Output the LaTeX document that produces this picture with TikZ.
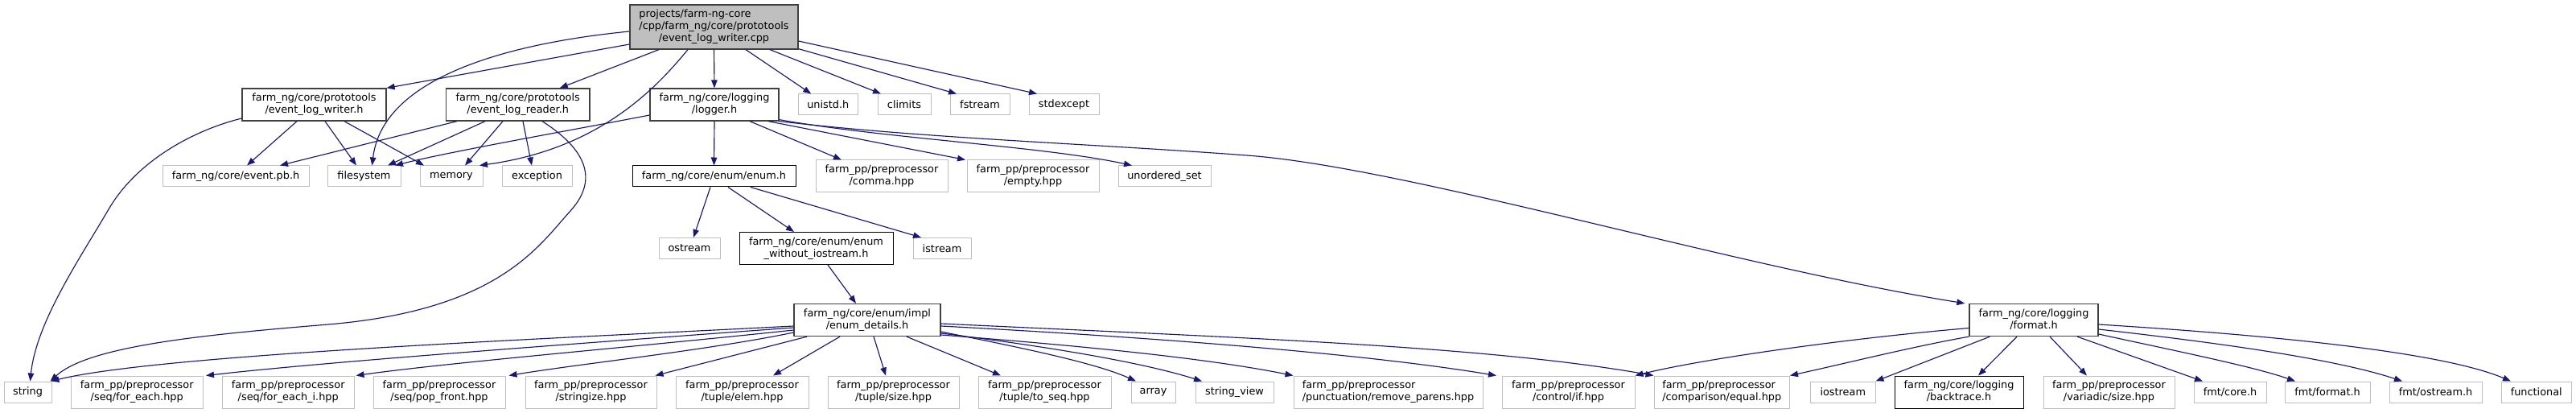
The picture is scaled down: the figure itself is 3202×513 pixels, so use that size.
\documentclass[tikz,border=0pt]{standalone}
\usepackage{fontspec}
\setmainfont{DejaVu Sans}
\usetikzlibrary{arrows.meta,calc}
\definecolor{edgec}{HTML}{191970}
\definecolor{gborder}{HTML}{BFBFBF}
\definecolor{dborder}{HTML}{404040}
\definecolor{rootfill}{HTML}{BFBFBF}
\newcommand{\twol}[2]{\begin{tabular}{@{}l@{}}#1\\\multicolumn{1}{@{}c@{}}{#2}\end{tabular}}
\tikzset{
  sz/.style 2 args={minimum width=#1pt,minimum height=#2pt},
  base/.style={rectangle,inner sep=0pt,font=\fontsize{12.85}{15}\selectfont,fill=white},
  gbox/.style={base,draw=gborder,line width=1pt},
  dbox/.style={base,draw=dborder,line width=1.3pt},
  bbox/.style={base,draw=black,line width=1pt},
  rbox/.style={base,draw=dborder,fill=rootfill,line width=1.3pt},
  ed/.style={draw=edgec,line width=1.15pt,-{Triangle[length=10pt,width=7.5pt]}}
}
\begin{document}
\begin{tikzpicture}[x=1pt,y=-1pt]
\useasboundingbox (0,0) rectangle (3202,513);
\fill[white] (0,0) rectangle (3202,513);
% nodes
\node[rbox,sz={209}{55}] (root) at (887.5,33.5) {\begin{tabular}{@{}l@{}}projects/farm-ng-core\\/cpp/farm\_ng/core/prototools\\\multicolumn{1}{@{}c@{}}{/event\_log\_writer.cpp}\end{tabular}};
\node[dbox,sz={179}{40}] (ewriter) at (390.5,130) {\twol{farm\_ng/core/prototools}{/event\_log\_writer.h}};
\node[dbox,sz={178.5}{40}] (ereader) at (643.75,130) {\twol{farm\_ng/core/prototools}{/event\_log\_reader.h}};
\node[dbox,sz={160}{40}] (logger) at (888,130) {\twol{farm\_ng/core/logging}{/logger.h}};
\node[gbox,sz={74.5}{26}] (unistd) at (1029.25,130) {unistd.h};
\node[gbox,sz={66}{26}] (climits) at (1124,130) {climits};
\node[gbox,sz={74}{26}] (fstream) at (1218,130) {fstream};
\node[gbox,sz={87}{26}] (stdexcept) at (1322.5,130) {stdexcept};
\node[gbox,sz={182}{26}] (eventpb) at (293,219) {farm\_ng/core/event.pb.h};
\node[gbox,sz={91}{26}] (filesystem) at (452.5,219) {filesystem};
\node[gbox,sz={78}{26}] (memory) at (561,219) {memory};
\node[gbox,sz={87}{26}] (exception) at (667.5,219) {exception};
\node[bbox,sz={203}{26}] (enumh) at (887.5,219) {farm\_ng/core/enum/enum.h};
\node[gbox,sz={164}{40}] (comma) at (1096,219) {\twol{farm\_pp/preprocessor}{/comma.hpp}};
\node[gbox,sz={164}{40}] (empty) at (1284,219) {\twol{farm\_pp/preprocessor}{/empty.hpp}};
\node[gbox,sz={115}{26}] (unordered) at (1447.5,219) {unordered\_set};
\node[gbox,sz={76}{26}] (ostream) at (857,308.5) {ostream};
\node[bbox,sz={191}{40}] (enumwo) at (1014.5,308.5) {\twol{farm\_ng/core/enum/enum}{\_without\_iostream.h}};
\node[gbox,sz={72}{26}] (istream) at (1171,308.5) {istream};
\node[dbox,sz={182}{40}] (details) at (1078,397.5) {\twol{farm\_ng/core/enum/impl}{/enum\_details.h}};
\node[dbox,sz={160}{40}] (format) at (2528,397.5) {\twol{farm\_ng/core/logging}{/format.h}};
% bottom row
\node[gbox,sz={59}{26}] (string) at (34.5,487) {string};
\node[gbox,sz={164.5}{40}] (foreach) at (170.25,487) {\twol{farm\_pp/preprocessor}{/seq/for\_each.hpp}};
\node[gbox,sz={163.5}{40}] (foreachi) at (358.25,487) {\twol{farm\_pp/preprocessor}{/seq/for\_each\_i.hpp}};
\node[gbox,sz={164}{40}] (popfront) at (546,487) {\twol{farm\_pp/preprocessor}{/seq/pop\_front.hpp}};
\node[gbox,sz={163}{40}] (stringize) at (734.5,487) {\twol{farm\_pp/preprocessor}{/stringize.hpp}};
\node[gbox,sz={165}{40}] (elem) at (922.5,487) {\twol{farm\_pp/preprocessor}{/tuple/elem.hpp}};
\node[gbox,sz={163}{40}] (tsize) at (1110.5,487) {\twol{farm\_pp/preprocessor}{/tuple/size.hpp}};
\node[gbox,sz={165}{40}] (toseq) at (1298.5,487) {\twol{farm\_pp/preprocessor}{/tuple/to\_seq.hpp}};
\node[gbox,sz={55}{26}] (array) at (1433.5,487) {array};
\node[gbox,sz={97}{26}] (stringview) at (1534.5,487) {string\_view};
\node[gbox,sz={235}{40}] (removeparens) at (1725.5,487) {\twol{farm\_pp/preprocessor}{/punctuation/remove\_parens.hpp}};
\node[gbox,sz={165}{40}] (ifhpp) at (1949.5,487) {\twol{farm\_pp/preprocessor}{/control/if.hpp}};
\node[gbox,sz={168.5}{40}] (equal) at (2140.25,487) {\twol{farm\_pp/preprocessor}{/comparison/equal.hpp}};
\node[gbox,sz={80.5}{26}] (iostream) at (2290.75,487) {iostream};
\node[bbox,sz={160}{40}] (backtrace) at (2435,487) {\twol{farm\_ng/core/logging}{/backtrace.h}};
\node[gbox,sz={163}{40}] (variadic) at (2621.5,487) {\twol{farm\_pp/preprocessor}{/variadic/size.hpp}};
\node[gbox,sz={90}{26}] (fmtcore) at (2772,487) {fmt/core.h};
\node[gbox,sz={106}{26}] (fmtformat) at (2893,487) {fmt/format.h};
\node[gbox,sz={115}{26}] (fmtostream) at (3027.5,487) {fmt/ostream.h};
\node[gbox,sz={86.5}{26}] (functional) at (3152.75,487) {functional};
% edges from root
\draw[ed] ($(root.west)+(0,21.5)$) -- (ewriter.north east);
\draw[ed] ($(root.west)+(0,5.5)$) .. controls (620,55) and (475,100) .. ($(filesystem.north)+(10,0)$);
\draw[ed] ($(root.south)+(-68.5,0)$) -- ($(ereader.north)+(52,0)$);
\draw[ed] ($(root.south)+(-32.5,0)$) .. controls (815,110) and (745,185) .. ($(memory.north)+(35,0)$);
\draw[ed] (root.south) -- (logger.north);
\draw[ed] ($(root.south)+(39.5,0)$) -- ($(unistd.north)+(-21,0)$);
\draw[ed] ($(root.south)+(69.5,0)$) -- ($(climits.north)+(-29,0)$);
\draw[ed] ($(root.south east)+(0,-1)$) -- ($(fstream.north)+(-29,0)$);
\draw[ed] ($(root.east)+(0,17.5)$) -- ($(stdexcept.north)+(-33.5,0)$);
% event_log_writer.h
\draw[ed] ($(ewriter.south)+(-21.5,0)$) -- ($(eventpb.north)+(14,0)$);
\draw[ed] ($(ewriter.south)+(13.5,0)$) -- ($(filesystem.north)+(-9.5,0)$);
\draw[ed] ($(ewriter.south)+(37.5,0)$) -- ($(memory.north)+(-34,0)$);
\draw[ed] ($(ewriter.west)+(0,17)$) .. controls (240,162) and (170,200) .. (135,260) .. controls (100,320) and (45,400) .. ($(string.north)+(3,0)$);
% event_log_reader.h
\draw[ed] ($(ereader.south)+(-75.75,0)$) -- ($(eventpb.north)+(55,0)$);
\draw[ed] ($(ereader.south)+(-40.75,0)$) -- ($(filesystem.north)+(29.5,0)$);
\draw[ed] ($(ereader.south)+(-18.75,0)$) -- ($(memory.north)+(17,0)$);
\draw[ed] ($(ereader.south)+(6.25,0)$) -- ($(exception.north)+(-6.5,0)$);
\draw[ed] ($(ereader.south)+(30.25,0)$) .. controls (720,180) and (749,218) .. (709,262) .. controls (669,306) and (620,385) .. (408,403) .. controls (250,416) and (110,430) .. ($(string.north east)+(-2,0)$);
% logger.h
\draw[ed] ($(logger.west)+(0,13)$) .. controls (720,160) and (560,188) .. ($(filesystem.north)+(38.5,0)$);
\draw[ed] (logger.south) -- (enumh.north);
\draw[ed] ($(logger.south)+(44,0)$) -- ($(comma.north)+(-50,0)$);
\draw[ed] ($(logger.south)+(67,0)$) -- ($(empty.north)+(-84,0)$);
\draw[ed] ($(logger.south east)+(0,-2)$) .. controls (1100,172) and (1300,182) .. ($(unordered.north)+(-40.5,0)$);
\draw[ed] (logger.south east) .. controls (1150,172) and (1350,178) .. (1550,193) .. controls (1750,208) and (2150,330) .. ($(format.north west)+(-5,0)$);
% enum.h
\draw[ed] ($(enumh.south)+(-4.5,0)$) -- ($(ostream.north)+(5,0)$);
\draw[ed] ($(enumh.south)+(17.5,0)$) -- ($(enumwo.north)+(-27.5,0)$);
\draw[ed] ($(enumh.south)+(45.5,0)$) -- ($(istream.north)+(-26,0)$);
\draw[ed] ($(enumwo.south)+(14.5,0)$) -- ($(details.north)+(-14,0)$);
% enum_details.h
\draw[ed] ($(details.west)+(0,7.5)$) .. controls (700,420) and (200,440) .. ($(string.north east)+(-1,0)$);
\draw[ed] ($(details.west)+(0,9.5)$) .. controls (700,428) and (400,450) .. ($(foreach.north east)+(3,0)$);
\draw[ed] ($(details.west)+(0,12.5)$) .. controls (800,430) and (560,450) .. ($(foreachi.north east)+(2,0)$);
\draw[ed] ($(details.west)+(0,15.5)$) .. controls (880,435) and (720,452) .. ($(popfront.north east)+(4,0)$);
\draw[ed] ($(details.south)+(-75,0)$) -- ($(stringize.north east)+(-2,0)$);
\draw[ed] ($(details.south)+(-34,0)$) -- ($(elem.north)+(38.5,0)$);
\draw[ed] ($(details.south)+(8,0)$) -- ($(tsize.north)+(-9.5,0)$);
\draw[ed] ($(details.south)+(49,0)$) -- ($(toseq.north)+(-54.5,0)$);
\draw[ed] ($(details.east)+(0,14.5)$) .. controls (1260,430) and (1360,450) .. ($(array.north)+(-21.5,0)$);
\draw[ed] ($(details.east)+(0,16.5)$) .. controls (1300,430) and (1420,450) .. ($(stringview.north)+(-40.5,0)$);
\draw[ed] ($(details.east)+(0,18.5)$) .. controls (1350,430) and (1500,445) .. (removeparens.north west);
\draw[ed] ($(details.east)+(0,7.5)$) .. controls (1450,420) and (1700,440) .. ($(ifhpp.north)+(-89.5,0)$);
\draw[ed] ($(details.east)+(0,4.5)$) .. controls (1550,420) and (1850,430) .. (equal.north west);
% format.h
\draw[ed] ($(format.west)+(0,10)$) .. controls (2300,420) and (2120,445) .. (ifhpp.north east);
\draw[ed] (format.south west) .. controls (2380,430) and (2300,450) .. (equal.north east);
\draw[ed] ($(format.south west)+(26,0)$) -- (iostream.north east);
\draw[ed] ($(format.south)+(-21,0)$) -- ($(backtrace.north)+(24,0)$);
\draw[ed] ($(format.south)+(20,0)$) -- ($(variadic.north)+(-27.5,0)$);
\draw[ed] ($(format.south)+(54,0)$) -- ($(fmtcore.north)+(-34,0)$);
\draw[ed] ($(format.east)+(0,17.5)$) .. controls (2700,435) and (2800,455) .. ($(fmtformat.north)+(-40,0)$);
\draw[ed] ($(format.east)+(0,11.5)$) .. controls (2750,425) and (2900,445) .. ($(fmtostream.north)+(-41.5,0)$);
\draw[ed] ($(format.east)+(0,5.5)$) .. controls (2800,415) and (3030,435) .. ($(functional.north)+(-31.75,0)$);
\end{tikzpicture}
\end{document}
